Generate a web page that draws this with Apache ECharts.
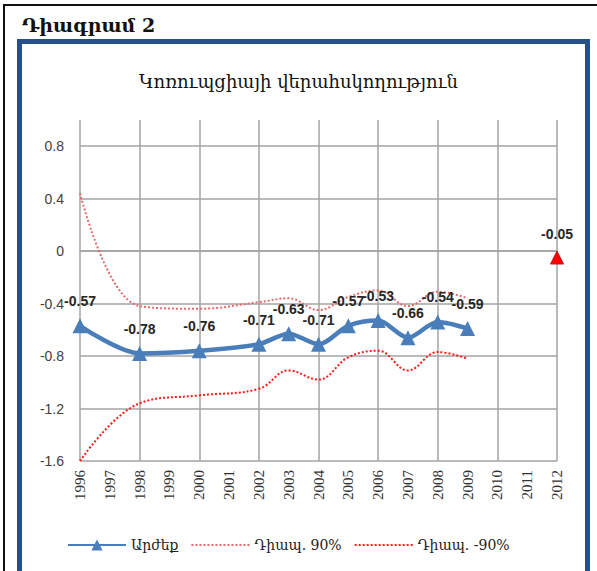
<!DOCTYPE html>
<html>
<head>
<meta charset="utf-8">
<script src="https://cdn.jsdelivr.net/npm/echarts@6/dist/echarts.min.js"></script>
<style>
  html, body { margin: 0; padding: 0; background: #fff; }
  #wrap { position: relative; width: 597px; height: 571px; overflow: hidden; background: #fff; }
  #outerTop { position: absolute; left: 3px; top: 4px; width: 594px; height: 2px; background: #111; }
  #outerLeft { position: absolute; left: 3px; top: 4px; width: 2px; height: 567px; background: #111; }
  #box { position: absolute; left: 17px; top: 39px; width: 563px; height: 540px; border: 5px solid #26508a; box-sizing: content-box; }
  #chart { position: absolute; left: 0; top: 0; width: 597px; height: 571px; }
</style>
</head>
<body>
<div id="wrap">
  <div id="outerTop"></div>
  <div id="outerLeft"></div>
  <div id="box"></div>
  <div id="chart"></div>
</div>
<script>
const years = ['1996','1997','1998','1999','2000','2001','2002','2003','2004','2005','2006','2007','2008','2009','2010','2011','2012'];
const valueSeries = [-0.57, null, -0.78, null, -0.76, null, -0.71, -0.63, -0.71, -0.57, -0.53, -0.66, -0.54, -0.59, null, null, null];
const upper90 = [0.44, null, -0.42, null, -0.44, null, -0.39, -0.36, -0.45, -0.35, -0.30, -0.42, -0.31, -0.36, null, null, null];
const lower90 = [-1.60, null, -1.16, null, -1.10, null, -1.05, -0.91, -0.98, -0.81, -0.76, -0.91, -0.77, -0.82, null, null, null];
const forecast = [null, null, null, null, null, null, null, null, null, null, null, null, null, null, null, null, -0.05];
const yTicks = { min: -1.6, max: 0.8, interval: 0.4 };
const headerText = 'Դիագրամ 2';
const chartTitle = 'Կոռուպցիայի վերահսկողություն';
const seriesNames = ['Արժեք', 'Դիապ. 90%', 'Դիապ. -90%'];

const chart = echarts.init(document.getElementById('chart'), null, { renderer: 'svg' });
const gridColor = '#a3a3a3';
const labelStyle = {
  show: true, position: 'top', distance: 10,
  fontFamily: 'Liberation Sans', fontWeight: 'bold', fontSize: 14, color: '#262626',
  formatter: p => p.value == null ? '' : p.value.toFixed(2)
};

chart.setOption({
  animation: false,
  backgroundColor: 'transparent',
  title: [
    { text: headerText, left: 17, top: 10, textStyle: { fontFamily: 'DejaVu Serif', fontWeight: 'bold', fontSize: 19, color: '#111' } },
    { text: chartTitle, left: 'center', top: 67, textStyle: { fontFamily: 'DejaVu Serif', fontWeight: 'normal', fontSize: 18, color: '#111' } }
  ],
  grid: [
    { left: 80, right: 40, top: 120, bottom: 110 },
    { left: 80, right: 40, top: 146, bottom: 110 }
  ],
  xAxis: [
    { gridIndex: 0, type: 'category', data: years, boundaryGap: false,
      axisLine: { show: false }, axisTick: { show: false }, axisLabel: { show: false },
      splitLine: { show: true, lineStyle: { color: gridColor, width: 1.5 } } },
    { gridIndex: 1, type: 'category', data: years, boundaryGap: false,
      axisLine: { show: true, lineStyle: { color: gridColor, width: 1.5 } }, axisTick: { show: false },
      axisLabel: { rotate: 90, margin: 9, fontFamily: 'Liberation Serif', fontSize: 15, color: '#333', interval: 0 },
      splitLine: { show: false } }
  ],
  yAxis: [
    { gridIndex: 0, type: 'value', min: -1.6, max: 1.0, show: false, splitLine: { show: false } },
    { gridIndex: 1, type: 'value', min: yTicks.min, max: yTicks.max, interval: yTicks.interval,
      axisLine: { show: false }, axisTick: { show: false },
      axisLabel: { margin: 16, fontFamily: 'Liberation Sans', fontSize: 14, color: '#404040',
        formatter: v => (Math.abs(v) < 1e-9 ? '0' : String(Math.round(v * 10) / 10)) },
      splitLine: { show: true, lineStyle: { color: gridColor, width: 1.5 } } }
  ],
  legend: {
    data: [
      { name: seriesNames[0] },
      { name: seriesNames[1], itemStyle: { opacity: 0 } },
      { name: seriesNames[2], itemStyle: { opacity: 0 } }
    ],
    left: 62, top: 533, itemWidth: 58, itemHeight: 14, itemGap: 12,
    textStyle: { fontFamily: 'DejaVu Serif', fontSize: 14, color: '#222' }
  },
  series: [
    { name: seriesNames[1], type: 'line', xAxisIndex: 1, yAxisIndex: 1, data: upper90,
      connectNulls: true, smooth: 0.4, symbol: 'none',
      lineStyle: { color: '#e06c6c', width: 2, type: 'dotted' }, itemStyle: { color: '#e06c6c' } },
    { name: seriesNames[2], type: 'line', xAxisIndex: 1, yAxisIndex: 1, data: lower90,
      connectNulls: true, smooth: 0.4, symbol: 'none',
      lineStyle: { color: '#ff1a1a', width: 2, type: 'dotted' }, itemStyle: { color: '#ff1a1a' } },
    { name: seriesNames[0], type: 'line', xAxisIndex: 1, yAxisIndex: 1, data: valueSeries,
      connectNulls: true, smooth: 0.3, symbol: 'triangle', symbolSize: 15,
      lineStyle: { color: '#4a7ebb', width: 4.5 }, itemStyle: { color: '#4a7ebb' },
      label: labelStyle, z: 5 },
    { name: 'forecast', type: 'line', xAxisIndex: 1, yAxisIndex: 1, data: forecast,
      symbol: 'triangle', symbolSize: 13, lineStyle: { width: 0 },
      itemStyle: { color: '#ff0000', borderColor: '#b00000', borderWidth: 0.8 },
      label: labelStyle, z: 6 }
  ]
});
</script>
</body>
</html>
